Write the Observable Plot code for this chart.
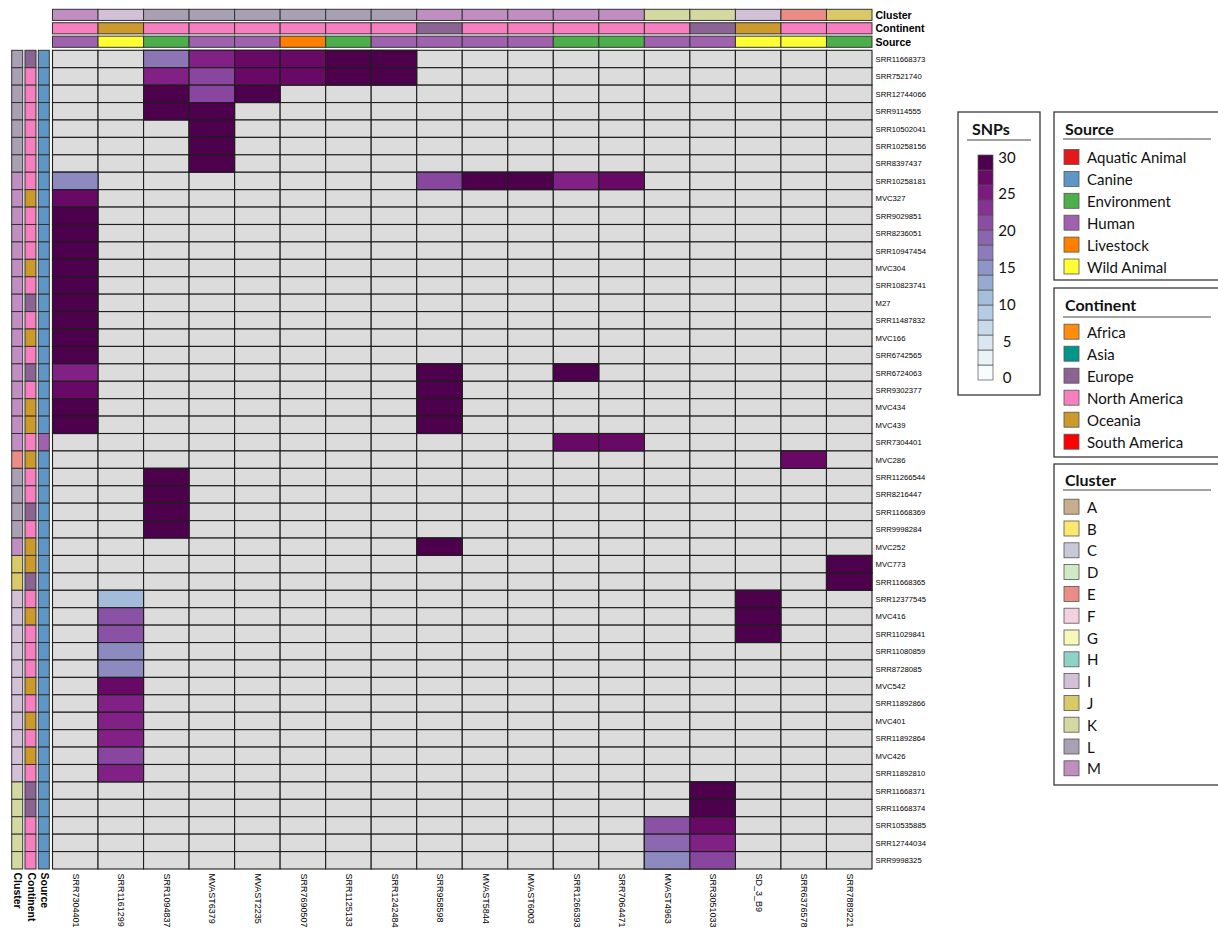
<!DOCTYPE html>
<html>
<head>
<meta charset="utf-8">
<script src="https://cdn.jsdelivr.net/npm/d3@7"></script>
<script src="https://cdn.jsdelivr.net/npm/@observablehq/plot@0.6"></script>
<style>
  html, body { margin: 0; padding: 0; background: #fff; overflow: hidden; }
  #root { position: relative; width: 1218px; height: 928px; background: #fff; }
  #root > svg { position: absolute; left: 0; top: 0; }
</style>
</head>
<body>
<div id="root"></div>
<script>
// ---------------- DATA ----------------
const colLabels = ["SRR7304401","SRR1161299","SRR1094837","MVAST6379","MVAST2235","SRR7690507","SRR1125133","SRR1242484","SRR958598","MVAST5844","MVAST6003","SRR1266393","SRR7064471","MVAST4963","SRR3051033","SD_3_B9","SRR6376578","SRR7889221"];
const colCluster   = ["M","I","L","L","L","L","L","L","M","M","M","M","M","K","K","I","E","J"];
const colContinent = ["North America","Oceania","North America","North America","North America","North America","North America","North America","Europe","North America","North America","North America","North America","North America","Europe","Oceania","North America","North America"];
const colSource    = ["Human","Wild Animal","Environment","Human","Human","Livestock","Environment","Human","Human","Human","Human","Environment","Environment","Human","Human","Wild Animal","Wild Animal","Environment"];

const rowLabels = ["SRR11668373","SRR7521740","SRR12744066","SRR9114555","SRR10502041","SRR10258156","SRR8397437","SRR10258181","MVC327","SRR9029851","SRR8236051","SRR10947454","MVC304","SRR10823741","M27","SRR11487832","MVC166","SRR6742565","SRR6724063","SRR9302377","MVC434","MVC439","SRR7304401","MVC286","SRR11266544","SRR8216447","SRR11668369","SRR9998284","MVC252","MVC773","SRR11668365","SRR12377545","MVC416","SRR11029841","SRR11080859","SRR8728085","MVC542","SRR11892866","MVC401","SRR11892864","MVC426","SRR11892810","SRR11668371","SRR11668374","SRR10535885","SRR12744034","SRR9998325"];
const rowCluster = ["L","L","L","L","L","L","L","M","M","M","M","M","M","M","M","M","M","M","M","M","M","M","M","E","L","L","L","L","M","J","J","I","I","I","I","I","I","I","I","I","I","I","K","K","K","K","K"];
const rowContinent = ["Europe","North America","North America","North America","North America","North America","North America","North America","Oceania","North America","North America","North America","Oceania","North America","Europe","North America","Oceania","North America","Europe","North America","Oceania","Oceania","North America","Oceania","North America","North America","Europe","North America","Oceania","Oceania","Europe","North America","Oceania","North America","North America","North America","Oceania","North America","Oceania","North America","Oceania","North America","Europe","Europe","North America","North America","North America"];
const rowSource = ["Canine","Canine","Canine","Canine","Canine","Canine","Canine","Canine","Canine","Canine","Canine","Canine","Canine","Canine","Canine","Canine","Canine","Canine","Canine","Canine","Canine","Canine","Human","Canine","Canine","Canine","Canine","Canine","Canine","Canine","Canine","Canine","Canine","Canine","Canine","Canine","Canine","Canine","Canine","Canine","Canine","Canine","Canine","Canine","Canine","Canine","Canine"];

// SNP differences: [row index, column index, SNPs]; all other cells are missing (grey)
const snpCells = [
  [0,2,18],[0,3,25],[0,4,28],[0,5,28],[0,6,30],[0,7,30],
  [1,2,25],[1,3,22],[1,4,28],[1,5,28],[1,6,30],[1,7,30],
  [2,2,30],[2,3,22],[2,4,30],
  [3,2,30],[3,3,30],
  [4,3,30],[5,3,30],[6,3,30],
  [7,0,16],[7,8,22],[7,9,30],[7,10,30],[7,11,25],[7,12,28],
  [8,0,28],
  [9,0,30],[10,0,30],[11,0,30],[12,0,30],[13,0,30],[14,0,30],[15,0,30],[16,0,30],[17,0,30],
  [18,0,25],[18,8,30],[18,11,30],
  [19,0,28],[19,8,30],
  [20,0,30],[20,8,30],
  [21,0,30],[21,8,30],
  [22,11,28],[22,12,28],
  [23,16,28],
  [24,2,30],[25,2,30],[26,2,30],[27,2,30],
  [28,8,30],
  [29,17,30],[30,17,30],
  [31,1,11],[31,15,30],
  [32,1,21],[32,15,30],
  [33,1,21],[33,15,30],
  [34,1,16],[35,1,16],
  [36,1,28],
  [37,1,25],[38,1,25],[39,1,25],
  [40,1,22],
  [41,1,25],
  [42,14,30],[43,14,30],
  [44,13,21],[44,14,28],
  [45,13,19],[45,14,25],
  [46,13,16],[46,14,22]
];

const tracks = ["Cluster","Continent","Source"];
const clusterNames  = ["A","B","C","D","E","F","G","H","I","J","K","L","M"];
const clusterColors = ["#c9ae8e","#fbe96f","#c8c8d6","#cdebc4","#ec8c86","#f3d1e1","#f7f9b8","#8ed3c7","#d1c0d6","#d9c968","#d3d9a0","#a9a0b3","#c18ec2"];
const continentNames  = ["Africa","Asia","Europe","North America","Oceania","South America"];
const continentColors = ["#ff8c0a","#00968a","#8b6494","#f77fbf","#cc992b","#ff0000"];
const sourceNames  = ["Aquatic Animal","Canine","Environment","Human","Livestock","Wild Animal"];
const sourceColors = ["#e31a1c","#5e97c7","#4caf4a","#a062ae","#ff7f00","#ffff33"];
const snpTicks = [0,5,10,15,20,25,30];
const snpDomain = [0,30];

// ---------------- BUILD ----------------
const root = document.getElementById("root");
const W = 1218, H = 928;
const gridLeft = 52.5, gridRight = 872, gridTop = 50.3, gridBottom = 869;
const fontFam = "'Liberation Sans', Arial, Helvetica, sans-serif";
const baseStyle = {background: "transparent", fontFamily: fontFam, overflow: "visible", position: "absolute", left: "0px", top: "0px"};

const annColor = {
  type: "ordinal",
  domain: [...clusterNames, ...continentNames, ...sourceNames],
  range: [...clusterColors, ...continentColors, ...sourceColors]
};

// Main heatmap
const allCells = [];
rowLabels.forEach(r => colLabels.forEach(c => allCells.push({row: r, col: c})));
const snpData = snpCells.map(([ri, ci, v]) => ({row: rowLabels[ri], col: colLabels[ci], snps: v}));

const main = Plot.plot({
  width: W, height: H,
  marginLeft: gridLeft, marginRight: W - gridRight, marginTop: gridTop, marginBottom: H - gridBottom,
  x: {type: "band", domain: colLabels, padding: 0, round: false},
  y: {type: "band", domain: rowLabels, padding: 0, round: false},
  color: {type: "linear", scheme: "BuPu", domain: snpDomain},
  style: baseStyle,
  marks: [
    Plot.cell(allCells, {x: "col", y: "row", fill: "#dcdcdc", stroke: "#1e1e1e", strokeWidth: 1.1, inset: 0}),
    Plot.cell(snpData, {x: "col", y: "row", fill: "snps", stroke: "#1e1e1e", strokeWidth: 1.1, inset: 0}),
    Plot.axisY({anchor: "right", tickSize: 0, tickPadding: 3, fontSize: 7.7, label: null}),
    Plot.axisX({anchor: "bottom", tickSize: 0, tickRotate: 90, tickPadding: 4, fontSize: 9, label: null})
  ]
});
root.appendChild(main);

// Top (column) annotations
const topAnn = [];
colLabels.forEach((c, i) => {
  topAnn.push({col: c, track: "Cluster", cat: colCluster[i]});
  topAnn.push({col: c, track: "Continent", cat: colContinent[i]});
  topAnn.push({col: c, track: "Source", cat: colSource[i]});
});
const topPlot = Plot.plot({
  width: W, height: 50,
  marginLeft: gridLeft, marginRight: W - gridRight, marginTop: 9.3, marginBottom: 2.7,
  x: {type: "band", domain: colLabels, padding: 0, round: false, axis: null},
  y: {type: "band", domain: tracks, paddingInner: 0.17, paddingOuter: 0, round: false},
  color: annColor,
  style: baseStyle,
  marks: [
    Plot.cell(topAnn, {x: "col", y: "track", fill: "cat", stroke: "#333", strokeWidth: 1, inset: 0}),
    Plot.axisY({anchor: "right", tickSize: 0, tickPadding: 3, fontSize: 10.5, fontWeight: "bold", label: null})
  ]
});
root.appendChild(topPlot);

// Left (row) annotations
const leftAnn = [];
rowLabels.forEach((r, i) => {
  leftAnn.push({row: r, track: "Cluster", cat: rowCluster[i]});
  leftAnn.push({row: r, track: "Continent", cat: rowContinent[i]});
  leftAnn.push({row: r, track: "Source", cat: rowSource[i]});
});
const leftPlot = Plot.plot({
  width: 60, height: H,
  marginLeft: 11.7, marginRight: 60 - 49.3, marginTop: gridTop, marginBottom: H - gridBottom,
  x: {type: "band", domain: tracks, paddingInner: 0.17, paddingOuter: 0, round: false},
  y: {type: "band", domain: rowLabels, padding: 0, round: false, axis: null},
  color: annColor,
  style: baseStyle,
  marks: [
    Plot.cell(leftAnn, {x: "track", y: "row", fill: "cat", stroke: "#333", strokeWidth: 1, inset: 0}),
    Plot.axisX({anchor: "bottom", tickSize: 0, tickRotate: 90, tickPadding: 3, fontSize: 10.5, fontWeight: "bold", label: null})
  ]
});
root.appendChild(leftPlot);

// ---------------- LEGENDS ----------------
const lg = d3.select(root).append("svg")
  .attr("width", W).attr("height", H)
  .style("position", "absolute").style("left", "0px").style("top", "0px")
  .style("font-family", "Lato, 'Open Sans', sans-serif");

// SNPs legend
lg.append("rect").attr("x", 958).attr("y", 112).attr("width", 82).attr("height", 283)
  .attr("fill", "#fff").attr("stroke", "#3a3a3a").attr("stroke-width", 1.3);
lg.append("text").attr("x", 972).attr("y", 128).attr("dominant-baseline", "central")
  .attr("font-weight", "bold").attr("font-size", 16).attr("fill", "#111").text("SNPs");
lg.append("line").attr("x1", 967).attr("x2", 1031).attr("y1", 140).attr("y2", 140)
  .attr("stroke", "#444").attr("stroke-width", 1);
const nSteps = 15, stepH = 15, rampBottom = 380;
d3.range(nSteps).forEach(i => {
  lg.append("rect").attr("x", 978).attr("y", rampBottom - (i + 1) * stepH)
    .attr("width", 15).attr("height", stepH)
    .attr("fill", d3.interpolateBuPu(i / (nSteps - 1)))
    .attr("stroke", "#555").attr("stroke-width", 0.7);
});
const snpY = d3.scaleLinear().domain(snpDomain).range([377.3, 156.7]);
snpTicks.forEach(v => {
  lg.append("text").attr("x", 1007).attr("y", snpY(v)).attr("text-anchor", "middle")
    .attr("dominant-baseline", "central").attr("font-size", 15).attr("fill", "#111").text(v);
});

function catLegend(title, names, colors, top, bottom, titleY, lineY, firstY, step) {
  lg.append("rect").attr("x", 1054).attr("y", top).attr("width", 175).attr("height", bottom - top)
    .attr("fill", "#fff").attr("stroke", "#3a3a3a").attr("stroke-width", 1.3);
  lg.append("text").attr("x", 1065).attr("y", titleY).attr("dominant-baseline", "central")
    .attr("font-weight", "bold").attr("font-size", 16).attr("fill", "#111").text(title);
  lg.append("line").attr("x1", 1063).attr("x2", 1211).attr("y1", lineY).attr("y2", lineY)
    .attr("stroke", "#444").attr("stroke-width", 1);
  names.forEach((n, i) => {
    const cy = firstY + i * step;
    lg.append("rect").attr("x", 1064).attr("y", cy - 7.5).attr("width", 15).attr("height", 15)
      .attr("fill", colors[i]).attr("stroke", "#555").attr("stroke-width", 0.8);
    lg.append("text").attr("x", 1087).attr("y", cy).attr("dominant-baseline", "central")
      .attr("font-size", 15).attr("fill", "#111").text(n);
  });
}
catLegend("Source", sourceNames, sourceColors, 112, 280, 128, 139, 157, 21.9);
catLegend("Continent", continentNames, continentColors, 288, 457, 304, 317, 331.7, 22);
catLegend("Cluster", clusterNames, clusterColors, 464, 785, 479, 490, 506.7, 21.8);
</script>
</body>
</html>
